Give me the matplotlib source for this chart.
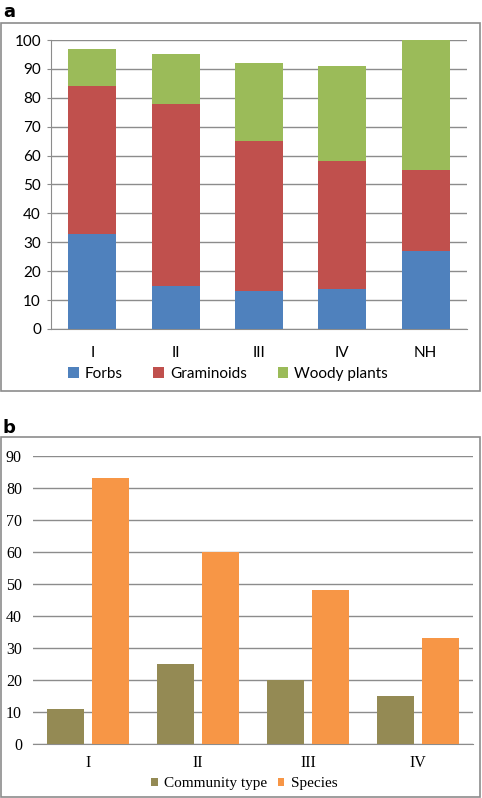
import matplotlib
matplotlib.use("Agg")
import matplotlib.pyplot as plt
from matplotlib.patches import Rectangle
import numpy as np

# Panel a data
cats_a = ["I", "II", "III", "IV", "NH"]
forbs = [33, 15, 13, 14, 27]
graminoids = [51, 63, 52, 44, 28]
woody = [13, 17, 27, 33, 45]
yticks_a = [0, 10, 20, 30, 40, 50, 60, 70, 80, 90, 100]

# Panel b data
cats_b = ["I", "II", "III", "IV"]
community = [11, 25, 20, 15]
species = [83, 60, 48, 33]
yticks_b = [0, 10, 20, 30, 40, 50, 60, 70, 80, 90]

W, H = 482, 798
fig = plt.figure(figsize=(W / 100, H / 100), dpi=100)

def fx(px):
    return px / W

def fy(py):
    return 1 - py / H

sans = "Lato"
serif = "Liberation Serif"

# frames
fig.patches.append(Rectangle((fx(1), fy(391)), fx(480) - fx(1), fy(23) - fy(391),
                             transform=fig.transFigure, fill=False, edgecolor="#8c8c8c", lw=1.2))
fig.patches.append(Rectangle((fx(1), fy(797)), fx(480) - fx(1), fy(437) - fy(797),
                             transform=fig.transFigure, fill=False, edgecolor="#8c8c8c", lw=1.2))
fig.text(fx(3), fy(12), "a", fontsize=13, fontweight="bold", va="center", ha="left", family="DejaVu Sans")
fig.text(fx(3), fy(428), "b", fontsize=13, fontweight="bold", va="center", ha="left", family="DejaVu Sans")

# Panel a
axa = fig.add_axes([fx(50.7), fy(329), fx(467.4) - fx(50.7), fy(40) - fy(329)])
x = np.arange(len(cats_a))
bw = 0.576
c_f, c_g, c_w = "#4F81BD", "#C0504D", "#9BBB59"
axa.bar(x, forbs, bw, color=c_f, label="Forbs", zorder=3)
axa.bar(x, graminoids, bw, bottom=forbs, color=c_g, label="Graminoids", zorder=3)
bot2 = [a + b for a, b in zip(forbs, graminoids)]
axa.bar(x, woody, bw, bottom=bot2, color=c_w, label="Woody plants", zorder=3)
axa.set_xlim(-0.5, len(cats_a) - 0.5)
axa.set_ylim(0, 100)
axa.set_yticks(yticks_a)
axa.yaxis.grid(True, color="#8c8c8c", lw=1.0, zorder=0)
axa.set_axisbelow(True)
for s in ["top", "right"]:
    axa.spines[s].set_visible(False)
axa.spines["left"].set_color("#8c8c8c")
axa.spines["bottom"].set_color("#8c8c8c")
axa.tick_params(axis="y", length=3, color="#8c8c8c", labelsize=11, pad=4)
axa.tick_params(axis="x", length=0, labelsize=11, pad=12)
axa.set_xticks(x)
axa.set_xticklabels(cats_a)
for lab in axa.get_xticklabels() + axa.get_yticklabels():
    lab.set_family(sans)
axa.legend(loc="center", bbox_to_anchor=(fx(228), fy(374)), bbox_transform=fig.transFigure,
           ncol=3, frameon=False, prop={"family": sans, "size": 11},
           handlelength=0.7, handleheight=0.7, handletextpad=0.4, columnspacing=2.0)

# Panel b
axb = fig.add_axes([fx(33), fy(744.3), fx(473) - fx(33), fy(455.7) - fy(744.3)])
xb = np.arange(len(cats_b))
bwb = 0.33
off = 0.205
axb.bar(xb - off, community, bwb, color="#948A54", label="Community type", zorder=3)
axb.bar(xb + off, species, bwb, color="#F79646", label="Species", zorder=3)
axb.set_xlim(-0.5, len(cats_b) - 0.5)
axb.set_ylim(0, 90)
axb.set_yticks(yticks_b)
axb.yaxis.grid(True, color="#8c8c8c", lw=1.0, zorder=0)
axb.set_axisbelow(True)
for s in ["top", "right", "left"]:
    axb.spines[s].set_visible(False)
axb.spines["bottom"].set_color("#8c8c8c")
axb.tick_params(axis="y", length=0, labelsize=11.5, pad=8)
axb.tick_params(axis="x", length=0, labelsize=11.5, pad=8)
axb.set_xticks(xb)
axb.set_xticklabels(cats_b)
for lab in axb.get_xticklabels() + axb.get_yticklabels():
    lab.set_family(serif)
axb.legend(loc="center", bbox_to_anchor=(fx(244), fy(784)), bbox_transform=fig.transFigure,
           ncol=2, frameon=False, prop={"family": serif, "size": 11},
           handlelength=0.45, handleheight=0.45, handletextpad=0.4, columnspacing=0.7)

fig.savefig("out.png", dpi=100)
